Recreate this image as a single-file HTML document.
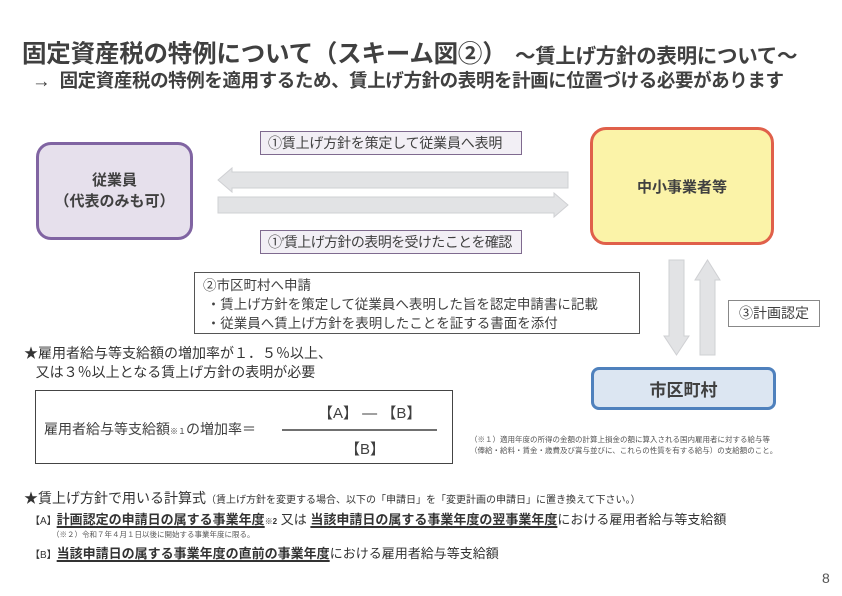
<!DOCTYPE html>
<html><head><meta charset="utf-8"><style>
body{margin:0;width:842px;height:596px;background:#fff;position:relative;overflow:hidden;font-family:"Liberation Sans","Noto Sans CJK JP",sans-serif;color:#404040}
.a{position:absolute;white-space:nowrap}
.b{position:absolute;box-sizing:border-box;white-space:nowrap}
u{text-decoration:underline;text-decoration-thickness:2px;text-underline-offset:2px;font-weight:bold}
</style></head><body>
<div class="a" style="left:22px;top:35px;font-size:24.5px;font-weight:bold;letter-spacing:-0.2px;color:#404040">固定資産税の特例について（スキーム図②）</div>
<div class="a" style="left:515px;top:39px;font-size:20.5px;font-weight:bold;letter-spacing:-0.3px">～賃上げ方針の表明について～</div>
<div class="a" style="left:32px;top:67px;font-size:18.5px;font-weight:bold;letter-spacing:-0.4px">→&nbsp; 固定資産税の特例を適用するため、賃上げ方針の表明を計画に位置づける必要があります</div>

<div class="b" style="left:36px;top:142px;width:157px;height:98px;border:3px solid #8064a2;background:#e6e0ec;border-radius:15px;display:flex;align-items:center;justify-content:center;text-align:center;font-weight:bold;font-size:15px;line-height:21px">従業員<br>（代表のみも可）</div>
<div class="b" style="left:590px;top:127px;width:184px;height:118px;border:3px solid #e0604a;background:#fbf3a8;border-radius:16px;display:flex;align-items:center;justify-content:center;font-weight:bold;font-size:15px">中小事業者等</div>
<div class="b" style="left:591px;top:367px;width:185px;height:43px;border:3px solid #4f81bd;background:#dce6f2;border-radius:8px;display:flex;align-items:center;justify-content:center;font-weight:bold;font-size:17px">市区町村</div>

<div class="b" style="left:260px;top:131px;width:262px;height:24px;border:1px solid #7f6a8f;background:#f2eff5;font-size:14px;line-height:22px;padding-left:7px;letter-spacing:-0.2px">①賃上げ方針を策定して従業員へ表明</div>
<div class="b" style="left:260px;top:230px;width:262px;height:24px;border:1px solid #7f6a8f;background:#f2eff5;font-size:14px;line-height:22px;padding-left:7px;letter-spacing:-0.6px">①’賃上げ方針の表明を受けたことを確認</div>

<svg class="b" style="left:0;top:0" width="842" height="596">
<g fill="#e2e3e5" stroke="#cfd0d3" stroke-width="1">
<polygon points="218,180 232,168 232,172 568,172 568,188 232,188 232,192"/>
<polygon points="218,197 554,197 554,193 568,205 554,217 554,213 218,213"/>
<polygon points="669,260 684,260 684,336 689,336 676.5,355 664,336 669,336"/>
<polygon points="700,355 715,355 715,280 720,280 707.5,260 695,280 700,280"/>
</g>
<line x1="282" y1="430" x2="437" y2="430" stroke="#404040" stroke-width="1.5"/>
</svg>

<div class="b" style="left:728px;top:300px;width:92px;height:27px;border:1px solid #888;background:#fff;font-size:14px;line-height:25px;text-align:center">③計画認定</div>

<div class="b" style="left:194px;top:272px;width:446px;height:62px;border:1px solid #555;background:#fff;font-size:13.5px;line-height:19px;padding:3px 0 0 8px">②市区町村へ申請<br>&nbsp;・賃上げ方針を策定して従業員へ表明した旨を認定申請書に記載<br>&nbsp;・従業員へ賃上げ方針を表明したことを証する書面を添付</div>

<div class="a" style="left:24px;top:344px;font-size:14px;line-height:19px;color:#333">★雇用者給与等支給額の増加率が１．５％以上、<br>&nbsp;&nbsp;&nbsp;又は３％以上となる賃上げ方針の表明が必要</div>

<div class="b" style="left:35px;top:390px;width:418px;height:74px;border:1.5px solid #444"></div>
<div class="a" style="left:44px;top:419px;font-size:14px">雇用者給与等支給額<span style="font-size:8px">※１</span>の増加率＝</div>
<div class="a" style="left:318px;top:402px;font-size:15px">【A】 ― 【B】</div>
<div class="a" style="left:345px;top:438px;font-size:15px">【B】</div>

<div class="a" style="left:470px;top:434px;font-size:7.5px;line-height:11px;color:#555">（※１）適用年度の所得の金額の計算上損金の額に算入される国内雇用者に対する給与等<br>（俸給・給料・賃金・歳費及び賞与並びに、これらの性質を有する給与）の支給額のこと。</div>

<div class="a" style="left:24px;top:488px;font-size:14px;color:#333">★賃上げ方針で用いる計算式<span style="font-size:10px">（賃上げ方針を変更する場合、以下の「申請日」を「変更計画の申請日」に置き換えて下さい。）</span></div>
<div class="a" style="left:30px;top:509px;font-size:13px;color:#333"><span style="font-size:10px">【A】</span><u>計画認定の申請日の属する事業年度</u><span style="font-size:8px;font-weight:bold">※2</span> 又は <u>当該申請日の属する事業年度の翌事業年度</u>における雇用者給与等支給額</div>
<div class="a" style="left:52px;top:529px;font-size:7.5px;color:#555">（※２）令和７年４月１日以後に開始する事業年度に限る。</div>
<div class="a" style="left:30px;top:543px;font-size:13px;color:#333"><span style="font-size:10px">【B】</span><u>当該申請日の属する事業年度の直前の事業年度</u>における雇用者給与等支給額</div>
<div class="a" style="left:822px;top:570px;font-size:14px;color:#555">8</div>
</body></html>
